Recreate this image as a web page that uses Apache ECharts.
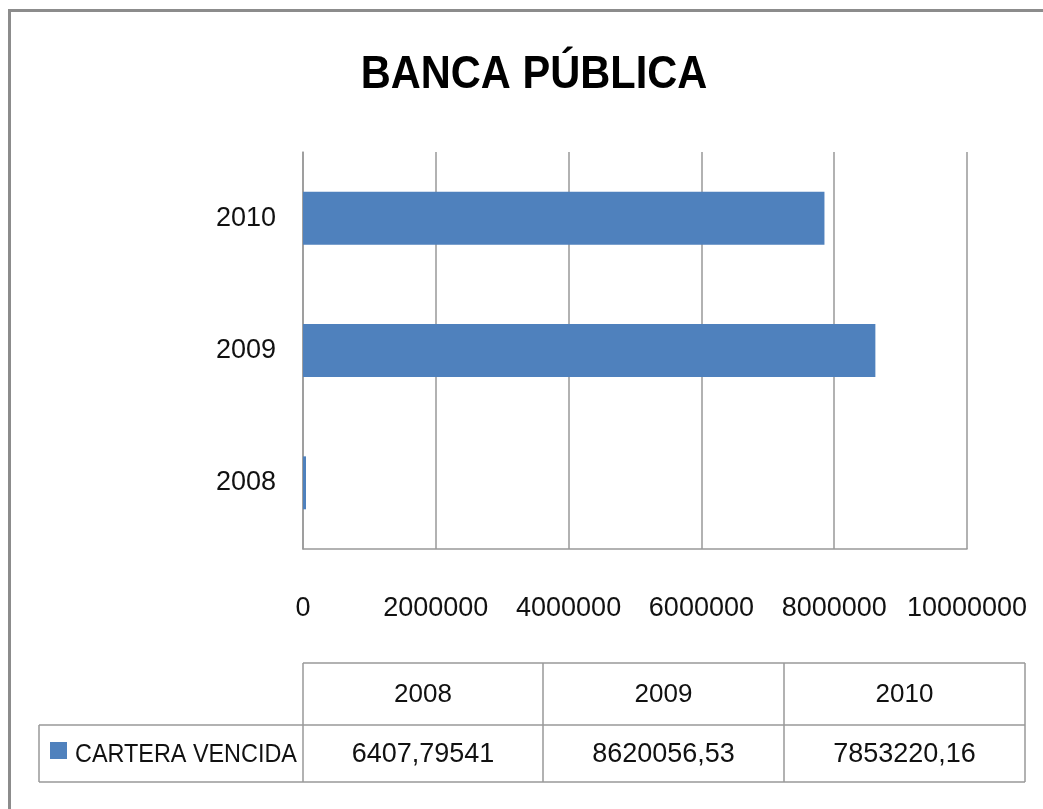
<!DOCTYPE html>
<html>
<head>
<meta charset="utf-8">
<script src="https://cdn.jsdelivr.net/npm/echarts@6/dist/echarts.min.js"></script>
<style>
html,body{margin:0;padding:0;background:#fff;}
#chart{width:1043px;height:809px;}
</style>
</head>
<body>
<div id="chart"></div>
<script>
var titleText = 'BANCA PÚBLICA';
var categories = ['2008', '2009', '2010'];
var seriesName = 'CARTERA VENCIDA';
var values = [6407.79541, 8620056.53, 7853220.16];
var valueLabels = ['6407,79541', '8620056,53', '7853220,16'];

var FONT = "'Liberation Sans', Arial, sans-serif";
var BLUE = '#4F81BD';
var LINE = '#999999';

var chart = echarts.init(document.getElementById('chart'), null, {renderer: 'canvas'});

var gridL = 303, gridT = 152, gridW = 664, gridH = 397;

// data table geometry
var tTop = 663, tMid = 725, tBot = 782;
var colX = [39, 303, 543, 784, 1025];

var g = [];
// outer frame
g.push({type: 'rect', shape: {x: 9.5, y: 10.5, width: 1100, height: 900},
  style: {fill: null, stroke: '#8c8c8c', lineWidth: 3}, silent: true});
// title (horizontally condensed like the original)
g.push({type: 'text', x: 534, y: 75, scaleX: 0.885,
  style: {text: titleText, font: 'bold 47px ' + FONT, fill: '#000', align: 'center', verticalAlign: 'middle'}});
// table lines
function line(x1, y1, x2, y2) {
  g.push({type: 'line', shape: {x1: x1, y1: y1, x2: x2, y2: y2},
    style: {stroke: LINE, lineWidth: 1.5}, silent: true});
}
line(colX[1], tTop, colX[4], tTop);
line(colX[0], tMid, colX[4], tMid);
line(colX[0], tBot, colX[4], tBot);
line(colX[0], tMid, colX[0], tBot);
for (var i = 1; i < colX.length; i++) line(colX[i], tTop, colX[i], tBot);
// header and values
for (var j = 0; j < categories.length; j++) {
  var cx = (colX[j + 1] + colX[j + 2]) / 2;
  g.push({type: 'text', x: cx, y: (tTop + tMid) / 2 + 1,
    style: {text: categories[j], font: '26px ' + FONT, fill: '#111', align: 'center', verticalAlign: 'middle'}});
  g.push({type: 'text', x: cx, y: (tMid + tBot) / 2 + 1,
    style: {text: valueLabels[j], font: '27px ' + FONT, fill: '#111', align: 'center', verticalAlign: 'middle'}});
}
// legend key + series name
g.push({type: 'rect', shape: {x: 50, y: 742, width: 17, height: 17}, style: {fill: BLUE}});
g.push({type: 'text', x: 75, y: (tMid + tBot) / 2 + 1, scaleX: 0.9,
  style: {text: seriesName, font: '26px ' + FONT, fill: '#111', align: 'left', verticalAlign: 'middle'}});

chart.setOption({
  backgroundColor: '#fff',
  animation: false,
  grid: {left: gridL, top: gridT, width: gridW, height: gridH, containLabel: false},
  xAxis: {
    type: 'value', min: 0, max: 10000000, interval: 2000000,
    axisLine: {show: true, lineStyle: {color: LINE, width: 1.5}},
    axisTick: {show: false},
    splitLine: {show: true, lineStyle: {color: LINE, width: 1.5}},
    axisLabel: {margin: 46, fontFamily: FONT, fontSize: 27, color: '#111',
      formatter: function (v) { return String(v); }}
  },
  yAxis: {
    type: 'category', data: categories,
    axisLine: {show: true, lineStyle: {color: LINE, width: 1.5}},
    axisTick: {show: false},
    axisLabel: {margin: 27, fontFamily: FONT, fontSize: 27, color: '#111'}
  },
  series: [{
    name: seriesName, type: 'bar', data: values, barWidth: '40%', barMinHeight: 3,
    itemStyle: {color: BLUE}, z: 3
  }],
  graphic: g
});
</script>
</body>
</html>
